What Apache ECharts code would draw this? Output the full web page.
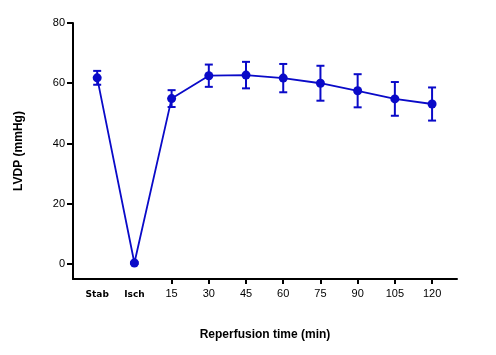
<!DOCTYPE html>
<html>
<head>
<meta charset="utf-8">
<script src="https://cdn.jsdelivr.net/npm/echarts@6/dist/echarts.min.js"></script>
<style>html,body{margin:0;padding:0;background:#fff;}#c{width:496px;height:355px;}</style>
</head>
<body>
<div id="c"></div>
<script>
var categories = ['Stab', 'Isch', '15', '30', '45', '60', '75', '90', '105', '120'];
var lvdpMean = [61.8, 0.3, 54.9, 62.5, 62.7, 61.7, 60.0, 57.5, 54.8, 53.1];
var lvdpErr = [2.3, 0.3, 2.8, 3.7, 4.4, 4.7, 5.8, 5.5, 5.6, 5.5];
var yTicks = [0, 20, 40, 60, 80];
var xTickIdx = [2, 3, 4, 5, 6, 7, 8, 9];

var blue = '#0a0ac8';
var lineData = categories.map(function (c, i) { return [i, lvdpMean[i]]; });
var errData = categories.map(function (c, i) { return [i, lvdpMean[i] - lvdpErr[i], lvdpMean[i] + lvdpErr[i]]; });
var allIdx = categories.map(function (c, i) { return i; });

var chart = echarts.init(document.getElementById('c'));
chart.setOption({
  animation: false,
  grid: { left: 73, right: 39, top: 23, bottom: 76 },
  xAxis: {
    type: 'value', min: -0.65, max: 9.67,
    name: 'Reperfusion time (min)', nameLocation: 'middle', nameGap: 50,
    nameTextStyle: { fontFamily: 'Liberation Sans', fontWeight: 'bold', fontSize: 12, color: '#000' },
    axisLine: { show: true, onZero: false, lineStyle: { color: '#000', width: 2 } },
    axisTick: { show: true, customValues: xTickIdx, length: 5, lineStyle: { color: '#000', width: 2 } },
    splitLine: { show: false },
    axisLabel: {
      customValues: allIdx, margin: 9,
      fontFamily: 'Liberation Sans', fontSize: 11, color: '#000',
      formatter: function (v) {
        var s = categories[Math.round(v)];
        return isNaN(Number(s)) ? '{t|' + s + '}' : s;
      },
      rich: { t: { fontFamily: 'DejaVu Sans', fontWeight: 'bold', fontSize: 9, color: '#000', padding: [2, 0, 0, 0] } }
    }
  },
  yAxis: {
    type: 'value', min: -5, max: 80,
    name: 'LVDP (mmHg)', nameLocation: 'middle', nameGap: 48,
    nameTextStyle: { fontFamily: 'Liberation Sans', fontWeight: 'bold', fontSize: 12, color: '#000' },
    axisLine: { show: true, onZero: false, lineStyle: { color: '#000', width: 2 } },
    axisTick: { show: true, customValues: yTicks, length: 6, lineStyle: { color: '#000', width: 2 } },
    splitLine: { show: false },
    axisLabel: { customValues: yTicks, margin: 8, fontFamily: 'Liberation Sans', fontSize: 11, color: '#000' }
  },
  series: [
    {
      type: 'custom',
      data: errData,
      z: 3,
      renderItem: function (params, api) {
        var x = api.value(0);
        var lo = api.coord([x, api.value(1)]);
        var hi = api.coord([x, api.value(2)]);
        var w = 4;
        var st = { stroke: blue, lineWidth: 2, fill: null };
        return {
          type: 'group',
          children: [
            { type: 'line', shape: { x1: hi[0], y1: hi[1], x2: lo[0], y2: lo[1] }, style: st },
            { type: 'line', shape: { x1: hi[0] - w, y1: hi[1], x2: hi[0] + w, y2: hi[1] }, style: st },
            { type: 'line', shape: { x1: lo[0] - w, y1: lo[1], x2: lo[0] + w, y2: lo[1] }, style: st }
          ]
        };
      }
    },
    {
      type: 'line',
      data: lineData,
      z: 4,
      symbol: 'circle', symbolSize: 9,
      lineStyle: { color: blue, width: 1.8 },
      itemStyle: { color: blue }
    }
  ]
});
</script>
</body>
</html>
